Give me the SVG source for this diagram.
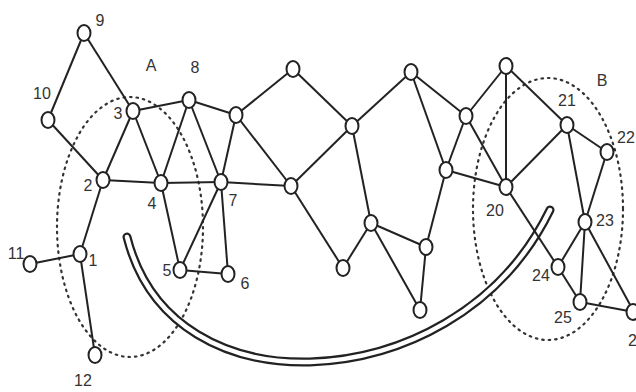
<svg xmlns="http://www.w3.org/2000/svg" width="636" height="392" viewBox="0 0 636 392">
<defs>
<style>
.e line{stroke:#222;stroke-width:2}
.n ellipse{fill:#fff;stroke:#222;stroke-width:2}
text{font-family:"Liberation Sans Narrow","Liberation Sans",Arial,sans-serif;font-size:16px;fill:#333}
.c{text-anchor:middle}
.dot{fill:none;stroke:#333;stroke-width:2.2;stroke-dasharray:1.5 5;stroke-linecap:round}
</style>
</defs>
<rect width="636" height="392" fill="#fff"/>
<g id="regions">
<ellipse class="dot" cx="130" cy="227" rx="73" ry="130"/>
<ellipse class="dot" cx="548" cy="209" rx="75" ry="131"/>
</g>
<g id="tube">
<path d="M127,237 C150,328 230,364 310,362 C400,359 500,312 550,210" fill="none" stroke="#222" stroke-width="9" stroke-linecap="round"/>
<path d="M127,237 C150,328 230,364 310,362 C400,359 500,312 550,210" fill="none" stroke="#fff" stroke-width="4.5" stroke-linecap="round"/>
</g>
<g id="connectors" class="e">
<line x1="84" y1="33" x2="48" y2="120"/>
<line x1="84" y1="33" x2="133" y2="111"/>
<line x1="48" y1="120" x2="103" y2="180"/>
<line x1="133" y1="111" x2="103" y2="180"/>
<line x1="133" y1="111" x2="189" y2="100"/>
<line x1="133" y1="111" x2="161" y2="183"/>
<line x1="103" y1="180" x2="161" y2="183"/>
<line x1="103" y1="180" x2="80" y2="254"/>
<line x1="80" y1="254" x2="30" y2="264"/>
<line x1="80" y1="254" x2="95" y2="355"/>
<line x1="161" y1="183" x2="189" y2="100"/>
<line x1="161" y1="183" x2="221" y2="182"/>
<line x1="161" y1="183" x2="180" y2="270"/>
<line x1="189" y1="100" x2="221" y2="182"/>
<line x1="189" y1="100" x2="236" y2="115"/>
<line x1="221" y1="182" x2="236" y2="115"/>
<line x1="221" y1="182" x2="180" y2="270"/>
<line x1="221" y1="182" x2="228" y2="274"/>
<line x1="180" y1="270" x2="228" y2="274"/>
<line x1="221" y1="182" x2="291" y2="186"/>
<line x1="236" y1="115" x2="293" y2="69"/>
<line x1="236" y1="115" x2="291" y2="186"/>
<line x1="293" y1="69" x2="352" y2="126"/>
<line x1="291" y1="186" x2="352" y2="126"/>
<line x1="291" y1="186" x2="343" y2="268"/>
<line x1="352" y1="126" x2="371" y2="223"/>
<line x1="343" y1="268" x2="371" y2="223"/>
<line x1="371" y1="223" x2="426" y2="247"/>
<line x1="371" y1="223" x2="420" y2="310"/>
<line x1="426" y1="247" x2="420" y2="310"/>
<line x1="426" y1="247" x2="446" y2="170"/>
<line x1="352" y1="126" x2="411" y2="72"/>
<line x1="411" y1="72" x2="446" y2="170"/>
<line x1="411" y1="72" x2="466" y2="116"/>
<line x1="446" y1="170" x2="466" y2="116"/>
<line x1="446" y1="170" x2="506" y2="187"/>
<line x1="466" y1="116" x2="506" y2="187"/>
<line x1="466" y1="116" x2="506" y2="66"/>
<line x1="506" y1="66" x2="506" y2="187"/>
<line x1="506" y1="66" x2="567" y2="125"/>
<line x1="506" y1="187" x2="567" y2="125"/>
<line x1="567" y1="125" x2="607" y2="152"/>
<line x1="567" y1="125" x2="585" y2="222"/>
<line x1="607" y1="152" x2="585" y2="222"/>
<line x1="506" y1="187" x2="558" y2="267"/>
<line x1="585" y1="222" x2="558" y2="267"/>
<line x1="585" y1="222" x2="580" y2="302"/>
<line x1="585" y1="222" x2="634" y2="312"/>
<line x1="558" y1="267" x2="580" y2="302"/>
<line x1="580" y1="302" x2="634" y2="312"/>
</g>
<g class="n">
<g id="n9"><ellipse cx="84" cy="33" rx="6.5" ry="8"/><text x="100" y="26" class="c">9</text></g>
<g id="n10"><ellipse cx="48" cy="120" rx="6.5" ry="8"/><text x="42" y="99" class="c">10</text></g>
<g id="n3"><ellipse cx="133" cy="111" rx="6.5" ry="8"/><text x="118" y="119" class="c">3</text></g>
<g id="n8"><ellipse cx="189" cy="100" rx="6.5" ry="8"/><text x="195" y="73" class="c">8</text></g>
<g id="n2"><ellipse cx="103" cy="180" rx="6.5" ry="8"/><text x="88" y="191" class="c">2</text></g>
<g id="n4"><ellipse cx="161" cy="183" rx="6.5" ry="8"/><text x="152" y="209" class="c">4</text></g>
<g id="n7"><ellipse cx="221" cy="182" rx="6.5" ry="8"/><text x="233" y="206" class="c">7</text></g>
<g id="n1"><ellipse cx="80" cy="254" rx="6.5" ry="8"/><text x="93" y="266" class="c">1</text></g>
<g id="n11"><ellipse cx="30" cy="264" rx="6.5" ry="8"/><text x="16" y="259" class="c">11</text></g>
<g id="n5"><ellipse cx="180" cy="270" rx="6.5" ry="8"/><text x="167" y="276" class="c">5</text></g>
<g id="n6"><ellipse cx="228" cy="274" rx="6.5" ry="8"/><text x="245" y="289" class="c">6</text></g>
<g id="n12"><ellipse cx="95" cy="355" rx="6.5" ry="8"/><text x="83" y="386" class="c">12</text></g>
<g id="m1"><ellipse cx="236" cy="115" rx="6.5" ry="8"/></g>
<g id="m2"><ellipse cx="293" cy="69" rx="6.5" ry="8"/></g>
<g id="m3"><ellipse cx="352" cy="126" rx="6.5" ry="8"/></g>
<g id="m4"><ellipse cx="291" cy="186" rx="6.5" ry="8"/></g>
<g id="m5"><ellipse cx="343" cy="268" rx="6.5" ry="8"/></g>
<g id="m6"><ellipse cx="371" cy="223" rx="6.5" ry="8"/></g>
<g id="m7"><ellipse cx="426" cy="247" rx="6.5" ry="8"/></g>
<g id="m8"><ellipse cx="420" cy="310" rx="6.5" ry="8"/></g>
<g id="m9"><ellipse cx="411" cy="72" rx="6.5" ry="8"/></g>
<g id="m10"><ellipse cx="446" cy="170" rx="6.5" ry="8"/></g>
<g id="m11"><ellipse cx="466" cy="116" rx="6.5" ry="8"/></g>
<g id="m12"><ellipse cx="506" cy="66" rx="6.5" ry="8"/></g>
<g id="n20"><ellipse cx="506" cy="187" rx="6.5" ry="8"/><text x="495" y="216" class="c">20</text></g>
<g id="n21"><ellipse cx="567" cy="125" rx="6.5" ry="8"/><text x="567" y="106" class="c">21</text></g>
<g id="n22"><ellipse cx="607" cy="152" rx="6.5" ry="8"/><text x="626" y="143" class="c">22</text></g>
<g id="n23"><ellipse cx="585" cy="222" rx="6.5" ry="8"/><text x="605" y="226" class="c">23</text></g>
<g id="n24"><ellipse cx="558" cy="267" rx="6.5" ry="8"/><text x="541" y="281" class="c">24</text></g>
<g id="n25"><ellipse cx="580" cy="302" rx="6.5" ry="8"/><text x="563" y="323" class="c">25</text></g>
<g id="n26"><ellipse cx="633" cy="312" rx="6.5" ry="8"/><text x="628" y="346">2</text></g>
</g>
<g id="labels">
<text x="151" y="71" class="c">A</text>
<text x="602" y="86" class="c">B</text>
</g>
</svg>
